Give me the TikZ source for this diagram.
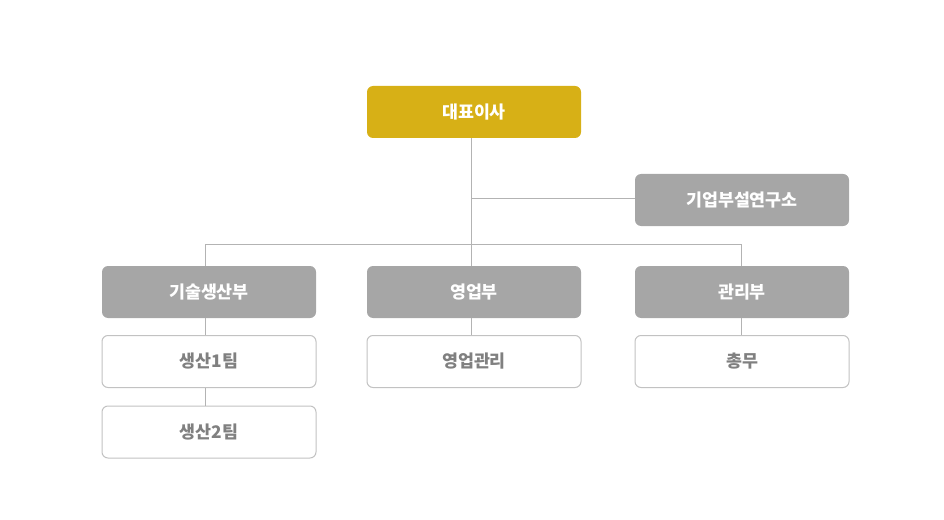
\documentclass[tikz,border=0pt]{standalone}
\usepackage{fontspec}
\newfontfamily\kr{Noto Sans CJK KR}
\definecolor{gold}{HTML}{D7B016}
\definecolor{boxgray}{HTML}{A6A6A6}
\definecolor{linegray}{HTML}{B3B3B3}
\definecolor{bordergray}{HTML}{C2C2C2}
\definecolor{txtgray}{HTML}{808080}
\begin{document}
\begin{tikzpicture}[x=0.75pt,y=-0.75pt,
  base/.style={rectangle,rounded corners=4.5pt,minimum width=160.5pt,minimum height=39pt,inner sep=0pt,font=\kr\bfseries\fontsize{13}{15}\selectfont},
  topbox/.style={base,fill=gold,text=white},
  deptbox/.style={base,fill=boxgray,text=white},
  teambox/.style={base,fill=white,draw=bordergray,line width=0.75pt,text=txtgray},
  conn/.style={draw=linegray,line width=0.75pt}]
\useasboundingbox (0,0) rectangle (944,520);
\node[topbox] (ceo) at (474,112) {대표이사};
\node[deptbox] (lab) at (742,200) {기업부설연구소};
\node[deptbox] (tech) at (209,292) {기술생산부};
\node[deptbox] (sales) at (474,292) {영업부};
\node[deptbox] (admin) at (742,292) {관리부};
\node[teambox] (p1) at (209,361.5) {생산1팀};
\node[teambox] (p2) at (209,432) {생산2팀};
\node[teambox] (sm) at (474,361.5) {영업관리};
\node[teambox] (ga) at (742,361.5) {총무};
\coordinate (jc) at (471,244);
\coordinate (jl) at (205,244);
\coordinate (jr) at (741,244);
\coordinate (jlab) at (471,199);
\draw[conn] (ceo.south -| jc) -- (jc);
\draw[conn] (jlab) -- (lab.west |- jlab);
\draw[conn] (jl) -- (jr);
\draw[conn] (jl) -- (tech.north -| jl);
\draw[conn] (jc) -- (sales.north -| jc);
\draw[conn] (jr) -- (admin.north -| jr);
\draw[conn] (tech.south -| jl) -- (p1.north -| jl);
\draw[conn] (p1.south -| jl) -- (p2.north -| jl);
\draw[conn] (sales.south -| jc) -- (sm.north -| jc);
\draw[conn] (admin.south -| jr) -- (ga.north -| jr);
\end{tikzpicture}
\end{document}
